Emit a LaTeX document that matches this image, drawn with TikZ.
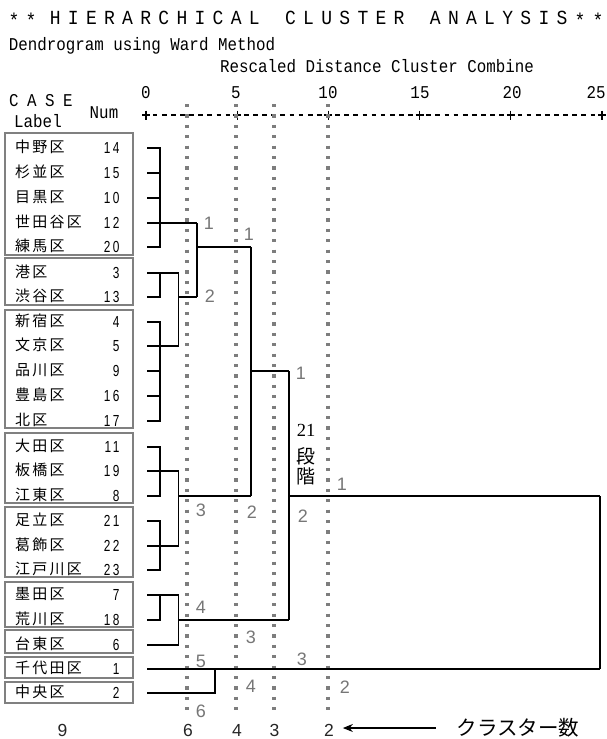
\documentclass[tikz,border=0pt]{standalone}
\usepackage{fontspec}
\setmainfont{Liberation Sans}
\newfontfamily\monofont[FakeStretch=0.88]{Liberation Mono}
\newfontfamily\titlefont[FakeStretch=0.9]{Liberation Mono}
\newfontfamily\narrowfont[FakeStretch=0.74,LetterSpace=16]{Liberation Sans}
\newfontfamily\cjkfont[LetterSpace=15]{Noto Sans CJK JP}
\newfontfamily\cjkplain{Noto Sans CJK JP}
\newfontfamily\serifnum{Liberation Serif}
\usetikzlibrary{arrows.meta}
\definecolor{numgray}{RGB}{118,118,118}
\definecolor{boxgray}{RGB}{128,128,128}
\definecolor{dotgray}{RGB}{125,125,125}
\begin{document}
\begin{tikzpicture}[x=1pt,y=-1pt,
  lbl/.style={inner sep=0pt,outer sep=0pt},
  hdr/.style={lbl,font=\monofont\fontsize{18}{18}\selectfont},
  ttl/.style={lbl,font=\titlefont\fontsize{20}{20}\selectfont},
  gnum/.style={lbl,text=numgray,font=\fontsize{18}{18}\selectfont},
  bnum/.style={lbl,text=black!85,font=\fontsize{17.5}{17.5}\selectfont},
  grpbox/.style={draw=boxgray,line width=2.2pt},
  dend/.style={line width=1.15pt,black},
  axisline/.style={line width=1.1pt,black},
  dotline/.style={draw=dotgray,line width=3.2pt,dash pattern=on 3.2pt off 7.2pt},
  wardname/.style={lbl,anchor=base west,font=\cjkfont\fontsize{15}{15}\selectfont},
  wardnum/.style={lbl,anchor=base east,font=\narrowfont\fontsize{16}{16}\selectfont},
  cjkbig/.style={lbl,font=\cjkplain\fontsize{19}{19}\selectfont},
]
\fill[white] (0,0) rectangle (606,739);
\useasboundingbox (0,0) rectangle (606,739);

% ---- title ----
\foreach \xx [count=\i] in {14,31,580,598} {\node[ttl] (ts\i) at (\xx,20) {*};}
\foreach \c [count=\i from 2] in {H,I,E,R,A,R,C,H,I,C,A,L} {\node[ttl,anchor=base] (ta\i) at ({19+18.1*\i},24) {\c};}
\foreach \c [count=\i from 15] in {C,L,U,S,T,E,R} {\node[ttl,anchor=base] (tb\i) at ({19+18.1*\i},24) {\c};}
\foreach \c [count=\i from 23] in {A,N,A,L,Y,S,I,S} {\node[ttl,anchor=base] (tc\i) at ({19+18.1*\i},24) {\c};}

\node[hdr,anchor=base] (subtitle) at (142,50) {Dendrogram using Ward Method};
\node[hdr,anchor=base] (scalettl) at (377,72) {Rescaled Distance Cluster Combine};
\foreach \c/\xx [count=\i] in {C/14,A/32,S/50,E/68} {\node[hdr,anchor=base] (case\i) at (\xx,106) {\c};}
\node[hdr,anchor=base] (numhdr) at (104,118) {Num};
\node[hdr,anchor=base] (labelhdr) at (38,127) {Label};

% ---- axis ----
\draw[axisline,dash pattern=on 4.7pt off 4.42pt] (143.65,115) -- (604.3,115);
\foreach \k/\xx in {0/146,1/237.2,2/328.4,3/419.6,4/510.8,5/602} {
  \draw[axisline] (\xx,110.5) -- ++(0,9);
  \draw[axisline] (\xx-4,115) -- ++(8,0);
}
\foreach \v/\xx [count=\i] in {0/146,5/236,10/328,15/420,20/512,25/596} {
  \node[hdr,anchor=base] (tick\i) at (\xx,98) {\v};
}

% ---- dotted cut lines ----
\foreach \xx in {187,236,274,328} {\draw[dotline] (\xx,104) -- (\xx,717);}

% ---- group boxes ----
\draw[grpbox] (5,133) rectangle (133,255);
\draw[grpbox] (5,258) rectangle (133,305);
\draw[grpbox] (5,310) rectangle (133,428);
\draw[grpbox] (5,433) rectangle (133,503);
\draw[grpbox] (5,507) rectangle (133,577);
\draw[grpbox] (5,582) rectangle (133,627);
\draw[grpbox] (5,630) rectangle (133,653);
\draw[grpbox] (5,657) rectangle (133,678);
\draw[grpbox] (5,682) rectangle (133,703);

% ---- case rows ----
\foreach \nm/\nu/\yy [count=\i] in {中野区/14/148,杉並区/15/173,目黒区/10/198,世田谷区/12/223,練馬区/20/247,港区/3/273,渋谷区/13/297,新宿区/4/322,文京区/5/346,品川区/9/371,豊島区/16/396,北区/17/421,大田区/11/447,板橋区/19/471,江東区/8/496,足立区/21/521,葛飾区/22/546,江戸川区/23/570,墨田区/7/595,荒川区/18/620,台東区/6/645,千代田区/1/669,中央区/2/693} {
  \coordinate (l\i) at (147,\yy);
  \node[wardname] (w\i) at (15,\yy+4.5) {\nm};
  \node[wardnum] (n\i) at (119.5,\yy+5) {\nu};
}

% ---- merge columns ----
\coordinate (xA) at (160,0);
\coordinate (xB) at (178.5,0);
\coordinate (xC) at (197,0);
\coordinate (xG) at (215,0);
\coordinate (xD) at (251,0);
\coordinate (xE) at (289,0);
\coordinate (xF) at (600,0);

\begin{scope}[dend]
% cluster 1-5
\draw (l1) -- (l1 -| xA) -- (l5 -| xA) -- (l5);
\draw (l2) -- (l2 -| xA);
\draw (l3) -- (l3 -| xA);
\draw (l4) -- (l4 -| xC);
% 6-7
\draw (l6) -- (l6 -| xB);
\draw (l6 -| xA) -- (l7 -| xA) -- (l7);
% 8-12
\draw (l8) -- (l8 -| xA) -- (l12 -| xA) -- (l12);
\draw (l10) -- (l10 -| xA);
\draw (l11) -- (l11 -| xA);
\draw (l9) -- (l9 -| xB);
\draw (l6 -| xB) -- (l9 -| xB);
\draw (l7 -| xB) -- (l7 -| xC);
\draw (l4 -| xC) -- (l7 -| xC);
\draw (l5 -| xC) -- (l5 -| xD);
% 13-15
\draw (l13) -- (l13 -| xA) -- (l15 -| xA) -- (l15);
\draw (l14) -- (l14 -| xB);
% 16-18
\draw (l16) -- (l16 -| xA) -- (l18 -| xA) -- (l18);
\draw (l17) -- (l17 -| xB);
\draw (l14 -| xB) -- (l17 -| xB);
\draw (l15 -| xB) -- (l15 -| xD);
\draw (l5 -| xD) -- (l15 -| xD);
\draw (l10 -| xD) -- (l10 -| xE);
% 19-21
\draw (l19) -- (l19 -| xB);
\draw (l19 -| xA) -- (l20 -| xA) -- (l20);
\draw (l21) -- (l21 -| xB);
\draw (l19 -| xB) -- (l21 -| xB);
\draw (l20 -| xB) -- (l20 -| xE);
\draw (l10 -| xE) -- (l20 -| xE);
\draw (l15 -| xE) -- (l15 -| xF);
% 22-23
\draw (l22) -- (l22 -| xF);
\draw (l23) -- (l23 -| xG) -- (l22 -| xG);
\draw (l15 -| xF) -- (l22 -| xF);
\end{scope}

% ---- gray step labels ----
\foreach \t/\xx/\yy [count=\i] in {1/209/223,2/210/296,1/249/234,1/301/373,1/342/484,3/201/510,2/252/512,2/303/516,4/201/607,3/251/637,5/201/661,3/302/659,4/251/686,2/345/687,6/201/711} {
  \node[gnum] (g\i) at (\xx,\yy) {\t};
}
\node[lbl,font=\serifnum\fontsize{18.5}{18.5}\selectfont] (step21) at (306,430) {21};
\node[cjkbig] (dan) at (306,456) {段};
\node[cjkbig] (kai) at (306,476) {階};

% ---- bottom ----
\node[bnum] (b9) at (62.5,730) {9};
\node[bnum] (b6) at (188,730) {6};
\node[bnum] (b4) at (237,730) {4};
\node[bnum] (b3) at (274.5,730) {3};
\node[bnum] (b2) at (329,730) {2};
\node[lbl,font=\cjkplain\fontsize{20.5}{20.5}\selectfont] (cnum) at (518,728) {クラスター数};
\draw[line width=1.2pt,-{Stealth[length=10pt,width=8pt]},shorten <=21pt,shorten >=9pt] (cnum.west) -- (cnum.west -| b2.east);
\end{tikzpicture}
\end{document}
